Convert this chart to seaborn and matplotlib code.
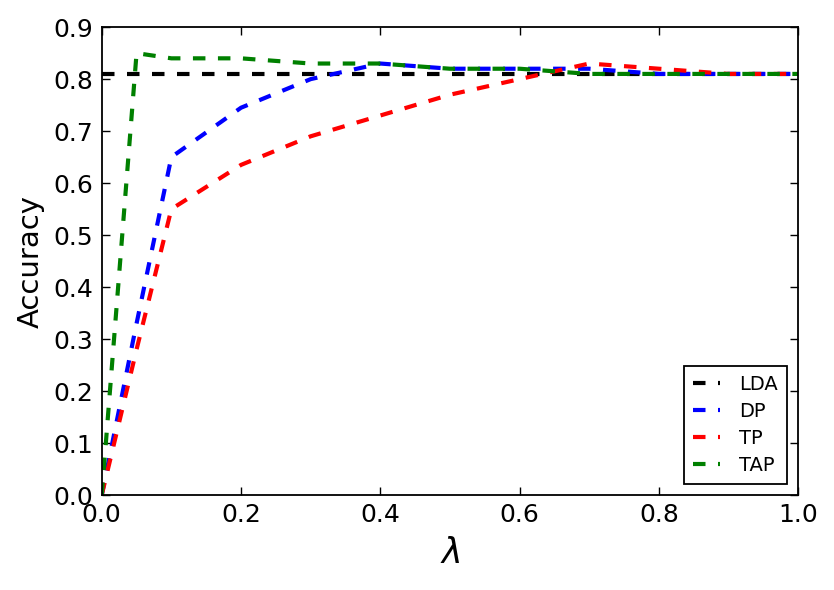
import numpy as np
import pandas as pd
import matplotlib
matplotlib.use("Agg")
import matplotlib.pyplot as plt
import seaborn as sns

# ----------------------------- Data -----------------------------
lam = [0.0, 0.05, 0.1, 0.2, 0.3, 0.4, 0.5, 0.6, 0.7, 0.8, 0.9, 1.0]
acc_lda = [0.81, 0.81, 0.81, 0.81, 0.81, 0.81, 0.81, 0.81, 0.81, 0.81, 0.81, 0.81]
acc_dp = [0.0, 0.33, 0.65, 0.745, 0.80, 0.83, 0.82, 0.82, 0.82, 0.81, 0.81, 0.81]
acc_tp = [0.0, 0.28, 0.55, 0.635, 0.69, 0.73, 0.77, 0.80, 0.83, 0.82, 0.81, 0.81]
acc_tap = [0.0, 0.85, 0.84, 0.84, 0.83, 0.83, 0.82, 0.82, 0.81, 0.81, 0.81, 0.81]

series_names = ["LDA", "DP", "TP", "TAP"]
series_vals = [acc_lda, acc_dp, acc_tp, acc_tap]
series_colors = ["black", "blue", "red", "green"]

x_ticks = [0.0, 0.2, 0.4, 0.6, 0.8, 1.0]
y_ticks = [0.0, 0.1, 0.2, 0.3, 0.4, 0.5, 0.6, 0.7, 0.8, 0.9]

# ----------------------------- Plot -----------------------------
sns.set_style("ticks")
plt.rcParams['font.family'] = ['DejaVu Sans']
plt.rcParams['mathtext.fontset'] = 'dejavusans'
plt.rcParams['text.color'] = 'black'
plt.rcParams['axes.labelcolor'] = 'black'

fig = plt.figure(figsize=(8.34, 5.90), dpi=100)
ax = fig.add_axes([0.122, 0.161, 0.835, 0.793])

for name, vals, col in zip(series_names, series_vals, series_colors):
    df = pd.DataFrame({"lam": lam, "acc": vals})
    sns.lineplot(data=df, x="lam", y="acc", ax=ax, color=col, lw=3,
                 linestyle=(0, (3, 3)), label=name)

ax.set_xlim(0, 1.0)
ax.set_ylim(0, 0.9)
ax.set_xticks(x_ticks)
ax.set_xticklabels([f"{t:.1f}" for t in x_ticks])
ax.set_yticks(y_ticks)
ax.set_yticklabels([f"{t:.1f}" for t in y_ticks])
ax.tick_params(direction="in", top=True, right=True, length=6, width=1,
               labelsize=18, colors="black", pad=6)
for sp in ax.spines.values():
    sp.set_visible(True)
    sp.set_color("black")
    sp.set_linewidth(1.3)

ax.set_xlabel(r"$\lambda$", fontsize=25, labelpad=6, color="black")
ax.set_ylabel("Accuracy", fontsize=21, labelpad=6, color="black")

leg = ax.legend(loc="lower right", fontsize=14, handlelength=1.35,
                handletextpad=1.0, borderpad=0.5, labelspacing=0.4,
                frameon=True, fancybox=False, framealpha=1,
                edgecolor="black", borderaxespad=0.55)
leg.get_frame().set_linewidth(1.3)
for t in leg.get_texts():
    t.set_color("black")

fig.savefig("out.png", dpi=100, facecolor="white")
